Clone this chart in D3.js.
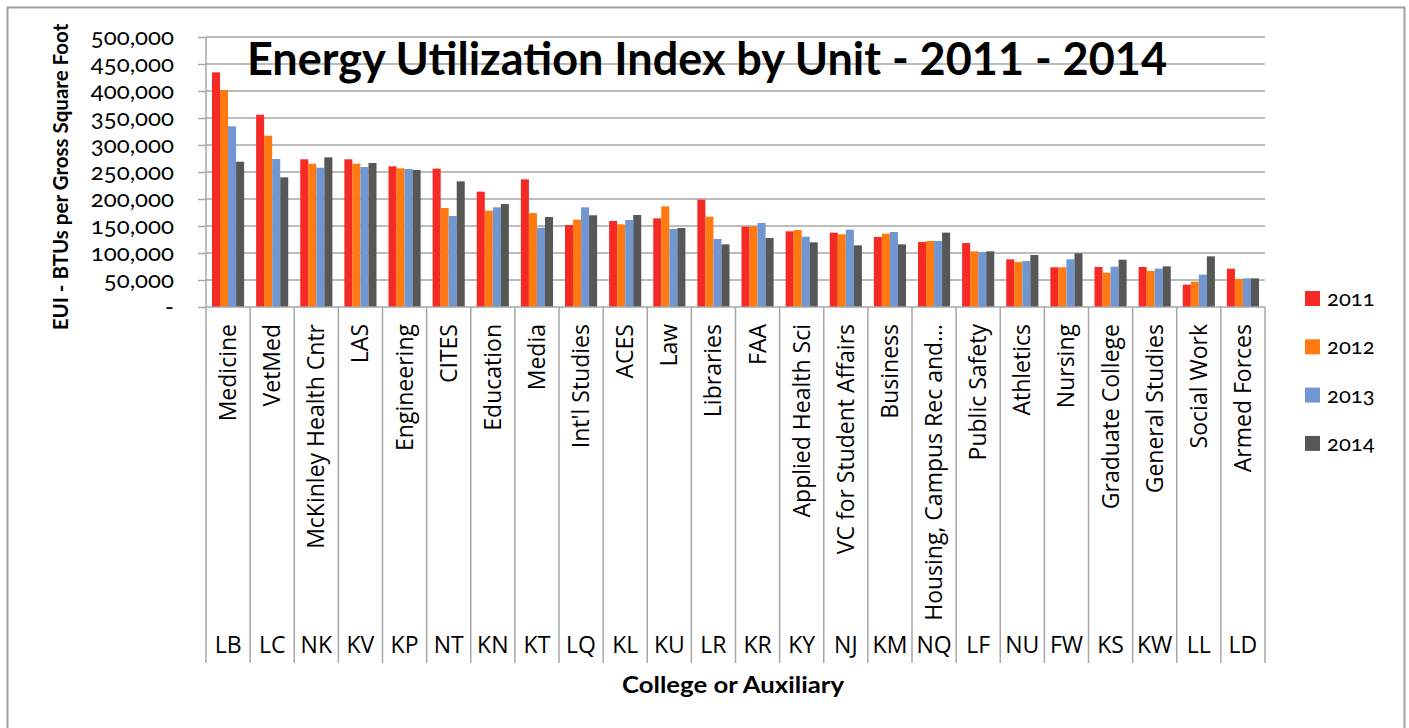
<!DOCTYPE html>
<html>
<head>
<meta charset="utf-8">
<script src="https://cdn.jsdelivr.net/npm/d3@7"></script>
<style>
  body { margin: 0; background: #fff; }
  text { fill: #000; }
</style>
</head>
<body>
<svg width="1409" height="728"></svg>
<script>
// data
var units = ["Medicine", "VetMed", "McKinley Health Cntr", "LAS", "Engineering", "CITES", "Education", "Media",
  "Int'l Studies", "ACES", "Law", "Libraries", "FAA", "Applied Health Sci", "VC for Student Affairs", "Business",
  "Housing, Campus Rec and\u2026", "Public Safety", "Athletics", "Nursing", "Graduate College", "General Studies",
  "Social Work", "Armed Forces"]
var codes = ["LB", "LC", "NK", "KV", "KP", "NT", "KN", "KT", "LQ", "KL", "KU", "LR", "KR", "KY", "NJ", "KM",
  "NQ", "LF", "NU", "FW", "KS", "KW", "LL", "LD"]
var years = ["2011", "2012", "2013", "2014"]
var eui2011 = [434600, 356100, 273500, 273500, 260500, 256200, 213600, 236400, 151900, 159300, 164200, 198800,
  148800, 140100, 137700, 129600, 120400, 118500, 88300, 73500, 74100, 74100, 41400, 71000]
var eui2012 = [401900, 317200, 265400, 265400, 256800, 183300, 178400, 174100, 161700, 153100, 186400, 167300,
  149400, 142600, 134600, 135800, 122200, 103100, 83300, 73500, 63600, 66700, 46900, 51900]
var eui2013 = [334600, 274000, 258000, 259300, 255600, 168500, 184600, 146900, 184600, 161100, 144400, 125900,
  155600, 130200, 143200, 138900, 122200, 101900, 85200, 88300, 74700, 71000, 59900, 53100]
var eui2014 = [269100, 240100, 277200, 266700, 253700, 232700, 190700, 166700, 169800, 170400, 146300, 116000,
  127800, 119800, 114200, 116000, 137700, 103100, 96300, 99400, 87600, 75300, 93800, 53100]
var yTicks = [0, 50000, 100000, 150000, 200000, 250000, 300000, 350000, 400000, 450000, 500000]
var colors = ["#f52a24", "#ff7b12", "#7197d3", "#575757"]

var series = [eui2011, eui2012, eui2013, eui2014]
var rows = codes.map(function (c, i) {
  return { code: c, unit: units[i], vals: series.map(function (s) { return s[i] }) }
})

var svg = d3.select("svg")
var plotLeft = 206, plotRight = 1265, plotTop = 37, base = 307, catBottom = 663
var gridCol = "#a6a6a6"

// chart border
svg.append("rect").attr("x", 7.5).attr("y", 7.5).attr("width", 1397).attr("height", 740)
  .attr("fill", "none").attr("stroke", "#a0a0a0").attr("stroke-width", 2)

var x0 = d3.scaleBand().domain(codes).range([plotLeft, plotRight]).padding(0)
var x1 = d3.scaleBand().domain(years).range([6, x0.bandwidth() - 6]).padding(0)
var y = d3.scaleLinear().domain([0, 500000]).range([base, plotTop])

// gridlines
svg.append("g").selectAll("line").data(yTicks.slice(1)).join("line")
  .attr("x1", plotLeft).attr("x2", plotRight)
  .attr("y1", function (d) { return y(d) }).attr("y2", function (d) { return y(d) })
  .attr("stroke", gridCol).attr("stroke-width", 1.5)

// y axis
var yAxis = svg.append("g").attr("transform", "translate(" + plotLeft + ",0)")
  .call(d3.axisLeft(y).tickValues(yTicks).tickSize(8).tickPadding(24)
    .tickFormat(function (d) { return d === 0 ? "-" : d3.format(",")(d) }))
yAxis.selectAll("line").attr("stroke", gridCol).attr("stroke-width", 1.5)
yAxis.select(".domain").attr("d", "M0," + plotTop + "V" + base).attr("stroke", gridCol).attr("stroke-width", 1.5)
yAxis.selectAll("text").attr("font-family", "Lato, 'Open Sans', sans-serif").attr("font-size", 24)
  .style("font-variant-numeric", "oldstyle-nums").attr("fill", "#000")

// bars
var groups = svg.append("g").selectAll("g").data(rows).join("g")
  .attr("transform", function (d) { return "translate(" + x0(d.code) + ",0)" })
groups.selectAll("rect").data(function (d) { return d.vals.map(function (v, k) { return { year: years[k], v: v, k: k } }) })
  .join("rect")
  .attr("x", function (d) { return x1(d.year) })
  .attr("width", x1.bandwidth())
  .attr("y", function (d) { return y(d.v) })
  .attr("height", function (d) { return base - y(d.v) })
  .attr("fill", function (d) { return colors[d.k] })

// baseline + category separators
svg.append("line").attr("x1", plotLeft).attr("x2", plotRight).attr("y1", base).attr("y2", base)
  .attr("stroke", gridCol).attr("stroke-width", 1.5)
var seps = codes.map(function (c) { return x0(c) }).concat([plotRight])
svg.append("g").selectAll("line").data(seps).join("line")
  .attr("x1", function (d) { return d }).attr("x2", function (d) { return d })
  .attr("y1", base).attr("y2", catBottom)
  .attr("stroke", gridCol).attr("stroke-width", 1.5)

// unit names (rotated)
svg.append("g").selectAll("text").data(rows).join("text")
  .attr("transform", function (d) { return "translate(" + (x0(d.code) + x0.bandwidth() / 2 + 8) + ",324) rotate(-90)" })
  .attr("text-anchor", "end")
  .attr("font-family", "'Open Sans', sans-serif").attr("font-size", 23)
  .text(function (d) { return d.unit })

// unit codes
svg.append("g").selectAll("text").data(rows).join("text")
  .attr("x", function (d) { return x0(d.code) + x0.bandwidth() / 2 })
  .attr("y", 653)
  .attr("text-anchor", "middle")
  .attr("font-family", "'Open Sans', sans-serif").attr("font-size", 23)
  .text(function (d) { return d.code })

// titles
svg.append("text").attr("x", 707).attr("y", 75).attr("text-anchor", "middle")
  .attr("font-family", "Lato, sans-serif").attr("font-weight", "bold").attr("font-size", 45)
  .attr("textLength", 920).attr("lengthAdjust", "spacingAndGlyphs")
  .text("Energy Utilization Index by Unit - 2011 - 2014")
svg.append("text").attr("transform", "translate(68,177) rotate(-90)").attr("text-anchor", "middle")
  .attr("font-family", "Lato, sans-serif").attr("font-weight", "bold").attr("font-size", 20.5)
  .text("EUI - BTUs per Gross Square Foot")
svg.append("text").attr("x", 733).attr("y", 693).attr("text-anchor", "middle")
  .attr("font-family", "Lato, sans-serif").attr("font-weight", "bold").attr("font-size", 23)
  .attr("textLength", 222).attr("lengthAdjust", "spacingAndGlyphs")
  .text("College or Auxiliary")

// legend
var leg = svg.append("g").selectAll("g").data(years).join("g")
  .attr("transform", function (d, i) { return "translate(1305," + (291 + i * 48.3) + ")" })
leg.append("rect").attr("width", 15).attr("height", 15).attr("fill", function (d, i) { return colors[i] })
leg.append("text").attr("x", 22).attr("y", 15)
  .attr("font-family", "Lato, sans-serif").attr("font-size", 22)
  .style("font-variant-numeric", "oldstyle-nums")
  .text(function (d) { return d })
</script>
</body>
</html>
